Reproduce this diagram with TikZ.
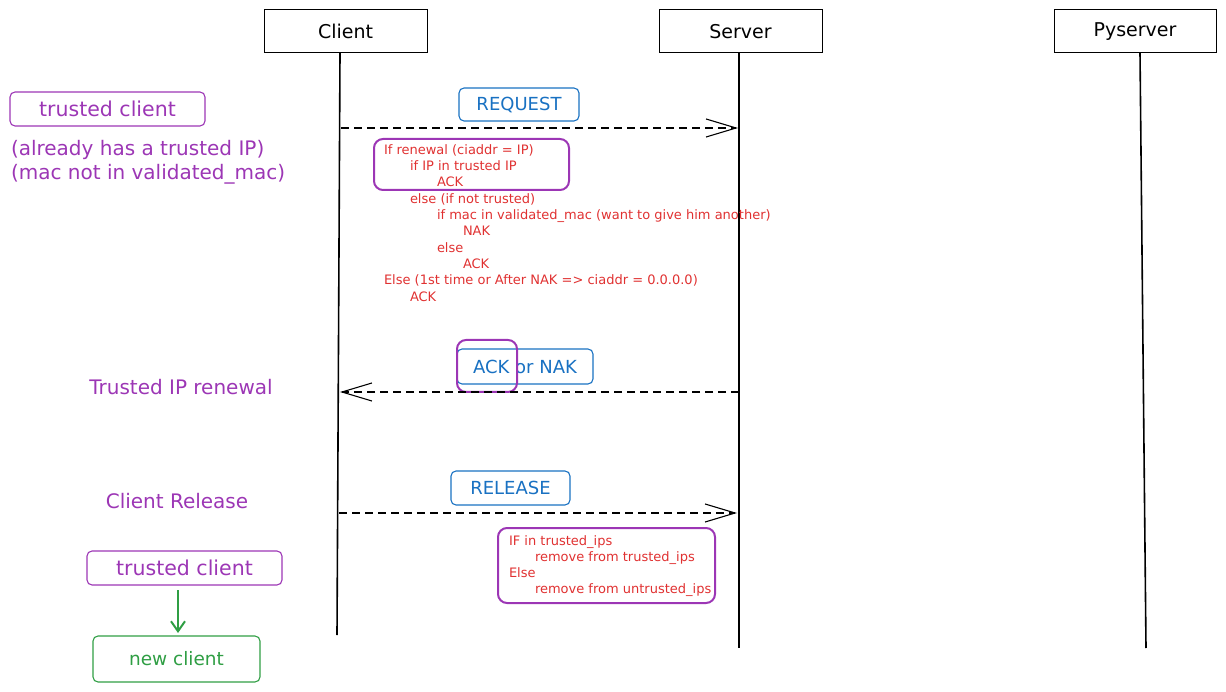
\documentclass[tikz,border=0pt]{standalone}
\usepackage{fontspec}
\setmainfont{DejaVu Sans}
\usetikzlibrary{arrows.meta}

\definecolor{exviolet}{HTML}{9C36B5}
\definecolor{exblue}{HTML}{1971C2}
\definecolor{exred}{HTML}{E03131}
\definecolor{exgreen}{HTML}{2F9E44}

\tikzset{
  actor/.style={draw=black, line width=1pt, minimum width=163pt, minimum height=43pt, font=\fontsize{19}{22}\selectfont},
  lifeline/.style={draw=black, line width=1.6pt},
  msg/.style={draw=black, line width=1.1pt, dash pattern=on 8pt off 5pt, -{Straight Barb[length=30pt,width=18pt,line width=1.1pt]}},
  msglabel/.style={draw=exblue, text=exblue, rounded corners=5pt, line width=1.1pt, font=\fontsize{18}{21}\selectfont},
  note/.style={text=exviolet, font=\fontsize{20}{24}\selectfont},
  notebox/.style={note, draw=exviolet, rounded corners=5pt, line width=1.1pt, font=\fontsize{20.5}{22}\selectfont},
  code/.style={text=exred, align=left, font=\fontsize{13}{16.3}\selectfont},
  codebox/.style={draw=exviolet, line width=2pt, rounded corners=9pt},
  flow/.style={draw=exgreen, line width=2pt, -{Straight Barb[length=10pt,width=14pt,line width=2pt]}},
}

\begin{document}
\begin{tikzpicture}[y=1pt, x=1pt, yscale=-1, inner sep=0pt, outer sep=0pt]
\useasboundingbox (0,0) rectangle (1226,692);

% actors and lifelines
\node[actor] (client) at (345.5,31.5) {Client};
\node[actor] (server) at (740.5,31.5) {Server};
\node[actor, minimum width=162pt] (pyserver) at (1135,31.5) {Pyserver};

\coordinate (client-top) at (340,53);
\coordinate (client-end) at (337,635);
\coordinate (server-top) at (739,53);
\coordinate (server-end) at (739,648);
\coordinate (pyserver-top) at (1140,53);
\coordinate (pyserver-end) at (1146,648);

\path[lifeline] (client-top) -- (client-end);
\path[lifeline] (server-top) -- (server-end);
\path[lifeline] (pyserver-top) -- (pyserver-end);

% request
\node[msglabel, minimum width=120pt, minimum height=33pt] (request) at (519,104.5) {REQUEST};
\coordinate (req-from) at (341,128);
\coordinate (req-to) at (738,128);
\path[msg] (req-from) -- (req-to);

\node[notebox, minimum width=195pt, minimum height=34pt] (trusted1) at (107.5,109) {trusted client};
\node[note, anchor=west, align=left] (trusted1-info) at (11,162) {(already has a trusted IP)\\(mac not in validated\_mac)};

\node[code, anchor=north west] (renew-logic) at (384,144.5) {If renewal (ciaddr = IP)\\
\hspace*{26pt}if IP in trusted IP\\
\hspace*{53pt}ACK\\
\hspace*{26pt}else (if not trusted)\\
\hspace*{53pt}if mac in validated\_mac (want to give him another)\\
\hspace*{79pt}NAK\\
\hspace*{53pt}else\\
\hspace*{79pt}ACK\\
Else (1st time or After NAK => ciaddr = 0.0.0.0)\\
\hspace*{26pt}ACK};
\path[codebox] (374,139) rectangle (569,190);

% ack or nak
\node[msglabel, minimum width=136pt, minimum height=35pt] (acknak) at (525,366.5) {ACK or NAK};
\path[codebox] (457,340) rectangle (517,392);
\coordinate (ack-from) at (739,392);
\coordinate (ack-to) at (340,392);
\path[msg] (ack-from) -- (ack-to);
\node[note] (renewal) at (181,387) {Trusted IP renewal};

% release
\node[msglabel, minimum width=119pt, minimum height=34pt] (release) at (510.5,488) {RELEASE};
\coordinate (rel-from) at (339,513);
\coordinate (rel-to) at (737,513);
\path[msg] (rel-from) -- (rel-to);
\node[note] (client-release) at (177,501) {Client Release};

\path[codebox] (498,528) rectangle (715,603);
\node[code, anchor=north west, font=\fontsize{13}{16}\selectfont] (release-logic) at (509,535.5) {IF in trusted\_ips\\
\hspace*{26pt}remove from trusted\_ips\\
Else\\
\hspace*{26pt}remove from untrusted\_ips};

% trusted -> new
\node[notebox, minimum width=195pt, minimum height=34pt] (trusted2) at (184.5,568) {trusted client};
\node[notebox, draw=exgreen, text=exgreen, minimum width=167pt, minimum height=46pt, font=\fontsize{18.5}{20}\selectfont] (newclient) at (176.5,659) {new client};
\coordinate (flow-x) at (178,0);
\path[flow, shorten <=5pt, shorten >=3pt] (trusted2.south -| flow-x) -- (newclient.north -| flow-x);

\end{tikzpicture}
\end{document}
